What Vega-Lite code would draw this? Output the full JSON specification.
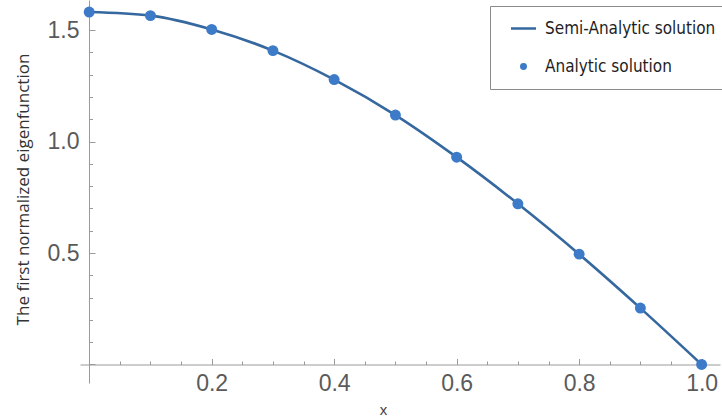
{
  "$schema": "https://vega.github.io/schema/vega-lite/v6.json",
  "autosize": {"type": "none"},
  "padding": {"left": 80, "top": 0, "right": 2, "bottom": 36},
  "width": 640,
  "height": 383,
  "background": "white",
  "config": {
    "view": {"stroke": null},
    "axis": {
      "grid": false,
      "domainColor": "#9a9a9a",
      "domainWidth": 1,
      "tickColor": "#9a9a9a",
      "tickWidth": 1,
      "labelFont": "Liberation Sans",
      "labelFontSize": 23,
      "labelColor": "#5a5a5a",
      "labelOverlap": false,
      "labelFlush": false
    }
  },
  "data": {
    "values": [
      {"x": 0.0, "phi": 1.581},
      {"x": 0.1, "phi": 1.565},
      {"x": 0.2, "phi": 1.503},
      {"x": 0.3, "phi": 1.408},
      {"x": 0.4, "phi": 1.278},
      {"x": 0.5, "phi": 1.119},
      {"x": 0.6, "phi": 0.93},
      {"x": 0.7, "phi": 0.721},
      {"x": 0.8, "phi": 0.495},
      {"x": 0.9, "phi": 0.253},
      {"x": 1.0, "phi": 0.0}
    ]
  },
  "encoding": {
    "x": {
      "field": "x",
      "type": "quantitative",
      "scale": {"domain": [-0.015, 1.03], "nice": false, "zero": false},
      "axis": {
        "offset": -18.5,
        "values": [0, 0.05, 0.1, 0.15, 0.2, 0.25, 0.3, 0.35, 0.4, 0.45, 0.5, 0.55, 0.6, 0.65, 0.7, 0.75, 0.8, 0.85, 0.9, 0.95, 1.0],
        "labelExpr": "datum.value > 0.01 && abs(datum.value * 5 - round(datum.value * 5)) < 1e-6 ? format(datum.value, '.1f') : ''",
        "tickSize": {"condition": {"test": "abs(datum.value * 5 - round(datum.value * 5)) < 1e-6", "value": -6}, "value": -3.5},
        "labelPadding": 14,
        "title": "x",
        "titleFont": "Liberation Sans",
        "titleFontSize": 15,
        "titleFontWeight": "normal",
        "titleColor": "#444444",
        "titleX": 303,
        "titleY": 50,
        "titleBaseline": "alphabetic"
      }
    },
    "y": {
      "field": "phi",
      "type": "quantitative",
      "scale": {"domain": [-0.083, 1.635], "nice": false, "zero": false},
      "axis": {
        "offset": -9,
        "values": [0, 0.1, 0.2, 0.3, 0.4, 0.5, 0.6, 0.7, 0.8, 0.9, 1.0, 1.1, 1.2, 1.3, 1.4, 1.5, 1.6],
        "labelExpr": "datum.value > 0.01 && abs(datum.value * 2 - round(datum.value * 2)) < 1e-6 ? format(datum.value, '.1f') : ''",
        "tickSize": {"condition": {"test": "abs(datum.value * 2 - round(datum.value * 2)) < 1e-6", "value": -6}, "value": -3.5},
        "labelPadding": 16,
        "title": "The first normalized eigenfunction",
        "titleFont": "Open Sans",
        "titleFontSize": 17,
        "titleFontWeight": "normal",
        "titleColor": "#333333",
        "titleX": -61,
        "titleY": 189,
        "titleBaseline": "alphabetic"
      }
    }
  },
  "layer": [
    {
      "mark": {"type": "line", "interpolate": "monotone", "strokeWidth": 2.6},
      "encoding": {
        "color": {
          "datum": "Semi-Analytic solution",
          "scale": {"domain": ["Semi-Analytic solution", "Analytic solution"], "range": ["#35689f", "#3d7bc8"]},
          "legend": {
            "orient": "none",
            "legendX": 410,
            "legendY": 6,
            "title": null,
            "fillColor": "white",
            "strokeColor": "#8a8a8a",
            "padding": 14,
            "rowPadding": 20,
            "symbolSize": 625,
            "symbolOffset": 11,
            "symbolStrokeWidth": 2.5,
            "labelFont": "DejaVu Sans Condensed",
            "labelFontSize": 17,
            "labelColor": "#1e1e1e",
            "labelOffset": 13,
            "labelLimit": 400,
            "labelExpr": "datum.label + '\u00a0\u00a0\u00a0'",
            "encode": {
              "symbols": {
                "update": {
                  "shape": {"signal": "datum.value === 'Semi-Analytic solution' ? 'stroke' : 'circle'"},
                  "size": {"signal": "datum.value === 'Semi-Analytic solution' ? 625 : 20"},
                  "stroke": {"signal": "datum.value === 'Semi-Analytic solution' ? '#2f5d92' : 'transparent'"},
                  "fill": {"signal": "datum.value === 'Semi-Analytic solution' ? 'transparent' : '#3a74b8'"},
                  "strokeWidth": {"value": 2.5},
                  "opacity": {"value": 1}
                }
              }
            }
          }
        }
      }
    },
    {
      "mark": {"type": "point", "filled": true, "size": 120, "opacity": 1},
      "encoding": {
        "color": {"datum": "Analytic solution"}
      }
    }
  ]
}
